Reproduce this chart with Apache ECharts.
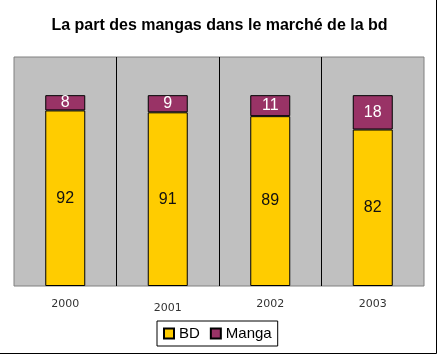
<!DOCTYPE html>
<html><head><meta charset="utf-8">
<script src="https://cdn.jsdelivr.net/npm/echarts@6/dist/echarts.min.js"></script>
<style>html,body{margin:0;padding:0;background:#fff}#c{width:439px;height:357px}</style>
</head><body><div id="c"></div>
<script>
const categories = ['2000', '2001', '2002', '2003'];
const bdValues = [92, 91, 89, 82];
const mangaValues = [8, 9, 11, 18];
const seriesNames = ['BD', 'Manga'];

const chart = echarts.init(document.getElementById('c'), null, {renderer: 'canvas'});
const font = '"Liberation Sans", Arial, sans-serif';
const axisFont = '"DejaVu Sans", sans-serif';
chart.setOption({
  animation: false,
  backgroundColor: '#ffffff',
  textStyle: {fontFamily: font},
  title: {
    text: 'La part des mangas dans le marché de la bd',
    left: 'center', top: 13,
    textStyle: {fontFamily: font, fontSize: 16, fontWeight: 'bold', color: '#000'}
  },
  grid: {
    left: 14, right: 15, top: 57, bottom: 71,
    show: true, backgroundColor: '#c0c0c0', borderColor: '#808080', borderWidth: 1
  },
  legend: {
    data: seriesNames,
    left: 157, top: 321,
    padding: [5, 6, 5, 6],
    itemWidth: 10, itemHeight: 10, itemGap: 10,
    borderColor: '#000', borderWidth: 1,
    icon: 'rect',
    textStyle: {fontFamily: font, fontSize: 15, color: '#000'}
  },
  xAxis: [{
    type: 'category',
    data: categories,
    axisLine: {show: false},
    axisTick: {show: false},
    splitLine: {show: false},
    axisLabel: {
      margin: 13,
      fontFamily: axisFont,
      fontSize: 11, color: '#333',
      formatter: function (v) { return v === '2001' ? '{b|' + v + '}' : '{a|' + v + '}'; },
      rich: {
        a: {fontFamily: axisFont, fontSize: 11, color: '#333'},
        b: {fontFamily: axisFont, fontSize: 11, color: '#333', padding: [4, 0, 0, 0]}
      }
    }
  }, {
    type: 'value', min: 0, max: 4, interval: 1,
    position: 'top',
    axisLine: {show: false}, axisTick: {show: false}, axisLabel: {show: false},
    splitLine: {show: true, showMinLine: false, showMaxLine: false, lineStyle: {color: '#000', width: 1}}
  }],
  yAxis: {
    type: 'value', min: 0, max: 120, show: false,
    splitLine: {show: false}
  },
  series: [{
    name: seriesNames[0], type: 'bar', stack: 'total', xAxisIndex: 0,
    data: bdValues, barWidth: 40,
    itemStyle: {color: '#ffcc00', borderColor: '#000', borderWidth: 1},
    label: {show: true, position: 'inside', fontFamily: font, fontSize: 16, color: '#111'}
  }, {
    name: seriesNames[1], type: 'bar', stack: 'total', xAxisIndex: 0,
    data: mangaValues, barWidth: 40,
    itemStyle: {color: '#993366', borderColor: '#000', borderWidth: 1},
    label: {show: true, position: 'inside', fontFamily: font, fontSize: 16, color: '#fff'}
  }],
  graphic: [{
    type: 'rect', silent: true,
    shape: {x: -5, y: -5, width: 441.5, height: 358.5},
    style: {fill: 'none', stroke: '#000', lineWidth: 1}
  }]
});
</script></body></html>
